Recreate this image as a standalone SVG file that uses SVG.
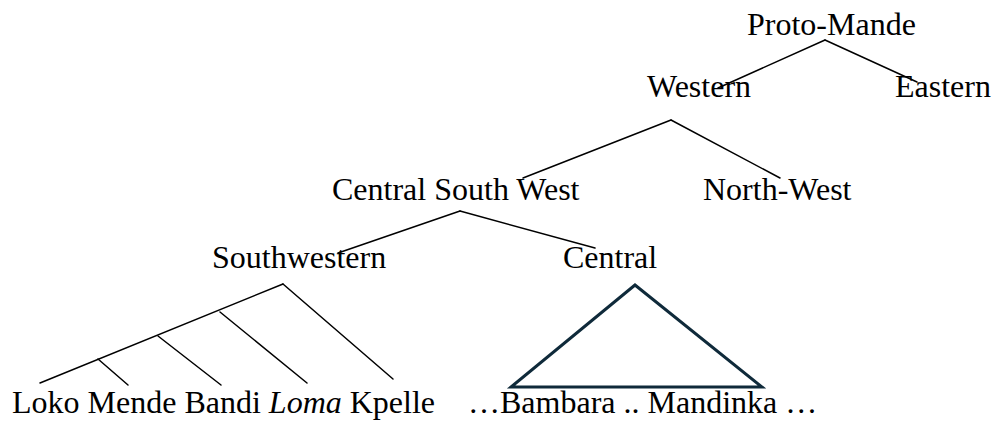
<svg xmlns="http://www.w3.org/2000/svg" width="992" height="421" viewBox="0 0 992 421">
  <style>
    .edge { stroke: #000; stroke-width: 1.5; fill: none; stroke-linecap: round; }
    .tri { stroke: #0f2a3a; stroke-width: 3; fill: none; stroke-linejoin: miter; }
    text { font-family: 'Liberation Serif', serif; font-size: 32px; fill: #000; }
  </style>
  <rect width="992" height="421" fill="#fff"/>

  <!-- tree branches -->
  <g id="connectors">
    <!-- Proto-Mande -->
    <line class="edge" x1="825" y1="40" x2="718" y2="88"/>
    <line class="edge" x1="825" y1="40" x2="917" y2="82"/>
    <!-- Western -->
    <line class="edge" x1="671" y1="120" x2="523" y2="178"/>
    <line class="edge" x1="671" y1="120" x2="780" y2="178"/>
    <!-- Central South West -->
    <line class="edge" x1="460" y1="211" x2="338" y2="253"/>
    <line class="edge" x1="460" y1="211" x2="595" y2="248"/>
    <!-- Southwestern rake -->
    <line class="edge" x1="283" y1="284" x2="40" y2="383"/>
    <line class="edge" x1="283" y1="284" x2="393" y2="379"/>
    <line class="edge" x1="98" y1="359" x2="128" y2="385"/>
    <line class="edge" x1="158" y1="336" x2="221" y2="385"/>
    <line class="edge" x1="220" y1="312" x2="307" y2="383"/>
    <!-- Central (collapsed) -->
    <polygon class="tri" points="635,285 511,387 762,387"/>
  </g>

  <g id="proto-mande"><text x="747" y="35" font-family="'Liberation Serif', serif">Proto-Mande</text></g>
  <g id="western"><text x="647" y="97" font-family="'Liberation Serif', serif">Western</text></g>
  <g id="eastern"><text x="895" y="97" font-family="'Liberation Serif', serif">Eastern</text></g>
  <g id="central-south-west"><text x="332" y="200" font-family="'Liberation Serif', serif">Central South West</text></g>
  <g id="north-west"><text x="703" y="200" font-family="'Liberation Serif', serif">North-West</text></g>
  <g id="southwestern"><text x="212" y="268" font-family="'Liberation Serif', serif">Southwestern</text></g>
  <g id="central"><text x="563" y="268" font-family="'Liberation Serif', serif">Central</text></g>
  <g id="southwestern-languages"><text x="12" y="413" font-family="'Liberation Serif', serif">Loko Mende Bandi <tspan font-style="italic">Loma</tspan> Kpelle</text></g>
  <g id="central-languages"><text x="468" y="413" font-family="'Liberation Serif', serif">…Bambara .. Mandinka …</text></g>
</svg>
